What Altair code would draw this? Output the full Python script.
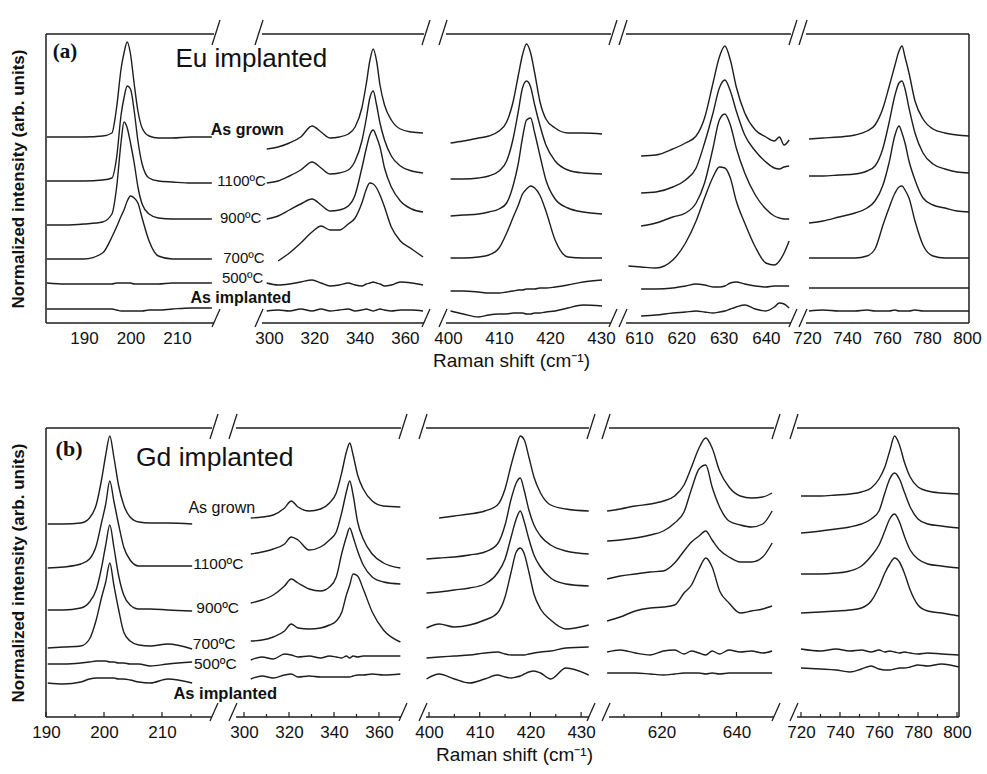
import altair as alt
import pandas as pd

CURVES = ["As grown", "1100ºC", "900ºC", "700ºC", "500ºC", "As implanted"]

# ---------------- Panel (a) : Eu implanted ----------------
A1_X = [182, 186, 190, 194, 196, 197, 198, 198.6, 199.3, 200, 200.8, 201.6, 202.5, 204, 206, 209, 213, 217.5]
A1_GROWN = [186, 186, 186, 187, 190, 215, 255, 270, 281, 269, 239, 212, 195, 187, 185, 185, 186, 186]
A1_1100 = [142, 142, 142, 143, 145, 165, 209, 225, 237, 234, 212, 182, 159, 145, 142, 141, 140, 140]
A1_900 = [98, 98, 99, 101, 109, 135, 182, 201, 195, 180, 160, 136, 119, 109, 105, 104, 104, 104]
A1_700 = [64, 64, 64, 70, 86, 96, 107, 113, 122, 127, 125, 120, 105, 82, 67, 64, 64, 64]
A1_500 = [40, 39, 39, 39, 39, 40, 40, 40, 40, 40, 39, 39, 39, 39, 39, 40, 40, 40]
A1_IMPL = [14, 14, 14, 14, 14, 13, 12, 12, 12, 12, 12, 12, 12, 13, 13, 14, 15, 15]

A2_X = [299, 304, 309, 314, 319, 323, 327, 331, 335, 338, 341, 343, 344.5, 346, 347.5, 349, 351, 354, 358, 363, 368]
A2_GROWN = [174, 176, 180, 186, 197, 191, 185, 186, 189, 196, 215, 240, 262, 274, 262, 238, 218, 203, 194, 191, 190]
A2_1100 = [140, 142, 147, 153, 161, 155, 149, 150, 153, 162, 182, 205, 225, 232, 218, 200, 183, 167, 157, 152, 150]
A2_900 = [104, 107, 113, 119, 124, 118, 112, 113, 117, 128, 155, 175, 188, 193, 186, 176, 155, 136, 122, 114, 111]
A2_700 = [None, 62, 70, 80, 91, 97, 93, 93, 99, 105, 120, 134, 140, 139, 135, 128, 116, 96, 82, 74, 66]
A2_500 = [40, 38, 39, 41, 43, 40, 37, 38, 40, 38, 37, 39, 40, 41, 40, 39, 37, 38, 41, 40, 38]
A2_IMPL = [12, 13, 12, 14, 12, 14, 12, 13, 14, 12, 13, 14, 13, 12, 13, 14, 13, 12, 13, 13, 12]

A3_X = [400.5, 403, 406, 408, 410, 411.5, 412.8, 413.8, 414.6, 415.4, 416.2, 417, 418, 419.2, 421, 423.5, 426.5, 430.2]
A3_GROWN = [180, 182, 185, 187, 192, 201, 222, 248, 268, 279, 270, 250, 222, 204, 195, 190, 190, 189]
A3_1100 = [144, 144, 145, 147, 152, 162, 185, 212, 235, 242, 236, 218, 198, 178, 162, 153, 150, 149]
A3_900 = [107, 108, 109, 111, 114, 120, 138, 160, 185, 203, 205, 190, 168, 143, 124, 115, 111, 109]
A3_700 = [65, 65, 66, 68, 75, 90, 106, 118, 129, 134, 137, 135, 128, 112, 83, 66, 65, 65]
A3_500 = [32, 32, 31, 30, 30, 31, 32, 33, 33, 34, 34, 34, 35, 35, 36, 38, 41, 43]
A3_IMPL = [12, 9, 6, 8, 9, 9, 10, 10, 10, 9, 9, 10, 10, 11, 12, 15, 18, 17]

A4_X = [607.5, 610.5, 614, 618, 621, 623.5, 625.5, 627.5, 629, 630.3, 631.6, 633, 635, 637.5, 640, 642, 643.2, 644.3, 645.5]
A4_GROWN = [None, 167, 168, 174, 180, 187, 205, 240, 266, 277, 263, 236, 210, 193, 186, 182, 186, 178, 183]
A4_1100 = [None, 130, 131, 136, 143, 155, 180, 210, 235, 243, 232, 212, 188, 172, 161, 155, 154, 156, 157]
A4_900 = [None, 97, 100, 106, 110, 120, 140, 175, 203, 209, 198, 175, 150, 128, 114, 107, 105, 104, 104]
A4_700 = [57, 56, 55, 63, 80, 102, 125, 146, 156, 155, 145, 122, 100, 76, 60, 58, 62, 70, 82]
A4_500 = [None, 34, 34, 35, 37, 39, 38, 36, 36, 37, 40, 41, 39, 37, 36, 37, 37, 37, 37]
A4_IMPL = [None, 7, 8, 10, 11, 12, 11, 10, 11, 12, 14, 16, 18, 14, 12, 16, 20, 19, 15]

A5_X = [721, 728, 736, 744, 750, 754, 758, 761, 764, 766, 767.5, 769, 771, 774, 778, 783, 789, 795, 801]
A5_GROWN = [184, 185, 186, 188, 192, 198, 215, 236, 258, 272, 277, 266, 250, 222, 204, 194, 190, 188, 187]
A5_1100 = [147, 147, 148, 149, 152, 157, 175, 200, 228, 240, 242, 234, 215, 190, 170, 159, 154, 151, 150]
A5_900 = [100, 102, 106, 110, 115, 122, 138, 160, 188, 197, 190, 180, 162, 143, 125, 118, 115, 112, 111]
A5_700 = [65, 65, 65, 65, 67, 74, 98, 115, 130, 136, 137, 133, 125, 102, 78, 67, 65, 65, 65]
A5_500 = [35, 35, 35, 35, 35, 35, 35, 35, 35, 35, 35, 35, 35, 35, 35, 35, 35, 35, 35]
A5_IMPL = [12, 13, 12, 12, 13, 12, 12, 12, 13, 12, 12, 12, 12, 13, 12, 12, 12, 12, 12]

# ---------------- Panel (b) : Gd implanted ----------------
B1_X = [190.3, 193, 196, 197.5, 198.7, 199.6, 200.3, 201, 201.7, 202.5, 203.4, 204.5, 206, 208, 211, 215.2]
B1_GROWN = [193, 193, 194, 199, 213, 238, 262, 281, 260, 232, 212, 200, 195, 194, 194, 193]
B1_1100 = [149, 150, 153, 158, 172, 195, 213, 236, 216, 193, 170, 157, 151, 151, 151, 151]
B1_900 = [107, 107, 109, 115, 128, 150, 172, 192, 170, 142, 122, 112, 108, 108, 107, 106]
B1_700 = [69, 70, 71, 78, 98, 120, 135, 154, 132, 108, 85, 76, 72, 71, 73, 68]
B1_500 = [53, 53, 54, 55, 56, 56, 56, 55, 55, 54, 54, 53, 53, 51, 53, 55]
B1_IMPL = [34, 33, 35, 38, 39, 39, 39, 39, 39, 38, 38, 37, 35, 34, 38, 34]

B2_X = [303, 308, 313, 318, 321, 324, 329, 334, 338, 341, 343.5, 345.5, 347, 348.5, 350.5, 353, 357, 362, 369.5]
B2_GROWN = [199, 200, 202, 209, 216, 210, 206, 208, 214, 224, 245, 265, 274, 262, 242, 228, 216, 211, 210]
B2_1100 = [163, 165, 168, 173, 180, 177, 167, 170, 177, 185, 205, 225, 236, 222, 195, 178, 163, 154, 149]
B2_900 = [114, 117, 122, 131, 138, 134, 128, 126, 130, 140, 164, 180, 189, 180, 166, 152, 140, 135, 133]
B2_700 = [76, 77, 80, 86, 93, 89, 88, 89, 92, 96, 105, 122, 132, 143, 141, 128, 105, 87, 75]
B2_500 = [57, 60, 58, 63, 62, 60, 61, 59, 61, 60, 59, 61, 59, 61, 60, 61, 61, 61, 61]
B2_IMPL = [38, 41, 39, 42, 43, 40, 41, 40, 40, 40, 40, 40, 40, 41, 42, 42, 43, 42, 43]

B3_X = [399.5, 402, 405, 408, 411, 413.5, 415, 416.2, 417.2, 418, 418.8, 419.7, 420.7, 422, 424, 427, 431.5]
B3_GROWN = [None, 199, 201, 203, 206, 212, 228, 252, 270, 281, 277, 260, 240, 224, 212, 208, 206]
B3_1100 = [158, 159, 160, 162, 165, 173, 192, 218, 234, 239, 226, 207, 192, 181, 172, 166, 163]
B3_900 = [124, 125, 127, 129, 133, 144, 158, 180, 198, 206, 195, 178, 162, 150, 139, 133, 131]
B3_700 = [89, 93, 90, 92, 97, 104, 120, 145, 165, 169, 163, 145, 123, 108, 97, 88, 92]
B3_500 = [59, 60, 61, 62, 64, 65, 63, 62, 62, 62, 62, 63, 64, 65, 66, 69, 70]
B3_IMPL = [38, 43, 38, 34, 38, 42, 40, 39, 40, 41, 43, 45, 46, 44, 38, 49, 42]

B4_X = [605.5, 609, 613, 617, 620.5, 623.5, 626, 628, 630, 631.8, 633.5, 635.5, 638, 641, 644, 647, 649.5]
B4_GROWN = [206, 208, 211, 213, 216, 221, 232, 250, 269, 279, 269, 246, 230, 221, 219, 220, 224]
B4_1100 = [176, 177, 179, 182, 186, 194, 205, 228, 248, 252, 230, 210, 196, 192, 190, 193, 206]
B4_900 = [138, 141, 143, 145, 146, 154, 166, 175, 181, 186, 177, 167, 160, 155, 155, 160, 174]
B4_700 = [96, 100, 106, 109, 110, 112, 124, 132, 148, 159, 150, 126, 114, 104, 106, 108, 111]
B4_500 = [65, 67, 64, 62, 66, 67, 63, 66, 64, 62, 66, 63, 67, 65, 66, 64, 66]
B4_IMPL = [44, 44, 44, 43, 42, 43, 44, 44, 44, 43, 44, 43, 44, 44, 44, 44, 44]

B5_X = [720, 730, 738, 745, 751, 756, 760, 763, 765.5, 768, 770.5, 773, 776, 780, 785, 792, 801]
B5_GROWN = [221, 221, 222, 223, 225, 229, 238, 250, 266, 281, 272, 255, 240, 230, 226, 224, 223]
B5_1100 = [184, 186, 188, 190, 193, 198, 206, 224, 238, 244, 238, 225, 210, 198, 193, 191, 189]
B5_900 = [143, 143, 144, 146, 151, 161, 172, 186, 198, 203, 195, 181, 167, 158, 153, 151, 149]
B5_700 = [104, 105, 106, 107, 109, 116, 130, 144, 153, 159, 155, 144, 127, 112, 106, 104, 101]
B5_500 = [68, 66, 68, 66, 67, 65, 67, 65, 66, 65, 64, 65, 64, 63, 64, 63, 62]
B5_IMPL = [49, 48, 47, 45, 48, 51, 48, 47, 47, 48, 49, 49, 50, 52, 51, 53, 50]

# tick labels
A_TICKS = [[190, 200, 210], [300, 320, 340, 360], [400, 410, 420, 430], [610, 620, 630, 640], [720, 740, 760, 780, 800]]
B_TICKS = [[190, 200, 210], [300, 320, 340, 360], [400, 410, 420, 430], [620, 640], [720, 740, 760, 780, 800]]
B_MINOR = [[195, 205, 215], [310, 330, 350], [405, 415, 425], [610, 630], [730, 750, 770, 790]]

INK = "#1e1e1e"
FONT = "Liberation Sans"
TOP = 289

# layout of each broken segment: domain, width, axis-line extent, pixels per unit
GEOM_A = [
    dict(dom=[181.83, 223.12], w=192, ax=[181.83, 217.96], ppu=4.65),
    dict(dom=[286.31, 373.29], w=197, ax=[296.91, 368.43], ppu=2.265),
    dict(dom=[397.45, 433.53], w=184, ax=[399.61, 431.96], ppu=5.1),
    dict(dom=[605.27, 647.83], w=180, ax=[606.93, 645.93], ppu=4.23),
    dict(dom=[716.0, 801.0], w=170, ax=[719.5, 801.0], ppu=2.0),
]
GEOM_B = [
    dict(dom=[190.0, 220.69], w=178, ax=[190.0, 218.62], ppu=5.8),
    dict(dom=[291.11, 375.56], w=190, ax=[296.44, 369.78], ppu=2.25),
    dict(dom=[397.04, 433.53], w=185, ax=[399.41, 431.56], ppu=5.07),
    dict(dom=[603.33, 653.2], w=187, ax=[606.0, 650.0], ppu=3.75),
    dict(dom=[712.31, 801.03], w=173, ax=[717.95, 801.03], ppu=1.95),
]


def long_df(xs, series):
    rows = []
    for name, ys in zip(CURVES, series):
        for x, y in zip(xs, ys):
            if y is not None:
                rows.append({"x": x, "h": y, "curve": name})
    return pd.DataFrame(rows)


def seg_chart(i, xs, series, g, labels, minor, xtitle_pos, texts, ticks_in):
    first, last = i == 0, i == 4
    ax_kw = dict(values=labels, domain=False, ticks=False, grid=False,
                 labelFont=FONT, labelFontSize=17, labelPadding=7,
                 labelFlush=False, labelOverlap=False, labelColor="#111")
    if xtitle_pos is not None:
        xaxis = alt.Axis(title="Raman shift (cm⁻¹)", titleFont=FONT, titleFontSize=19,
                         titleFontWeight="normal", titleX=xtitle_pos[0], titleY=xtitle_pos[1],
                         titleAlign="center", titleBaseline="alphabetic", titleColor="#111", **ax_kw)
    else:
        xaxis = alt.Axis(title=None, **ax_kw)
    if first:
        yaxis = alt.Axis(title="Normalized intensity (arb. units)", labels=False, ticks=False,
                         domain=False, grid=False, titleFont=FONT, titleFontSize=17,
                         titleFontWeight="bold", titlePadding=19, titleColor="#111")
    else:
        yaxis = None
    xenc = alt.X("x:Q", scale=alt.Scale(domain=g["dom"], nice=False, zero=False), axis=xaxis)
    yenc = alt.Y("h:Q", scale=alt.Scale(domain=[0, TOP], nice=False, zero=False), axis=yaxis)

    layers = []
    layers.append(alt.Chart(long_df(xs, series)).mark_line(
        color=INK, strokeWidth=1.4, interpolate="monotone").encode(x=xenc, y=yenc, detail="curve:N"))

    lo, hi = g["ax"]
    frame = pd.DataFrame({"x": [lo, lo], "x2": [hi, hi], "h": [0, TOP]})
    layers.append(alt.Chart(frame).mark_rule(color=INK, strokeWidth=1.5).encode(
        x=xenc, x2=alt.X2("x2"), y=yenc))

    vx = []
    if first:
        vx.append(lo)
    if last:
        vx.append(hi)
    if vx:
        vf = pd.DataFrame({"x": vx, "h": [0] * len(vx), "h2": [TOP] * len(vx)})
        layers.append(alt.Chart(vf).mark_rule(color=INK, strokeWidth=1.5).encode(
            x=xenc, y=yenc, y2=alt.Y2("h2")))

    centers = []
    if not first:
        centers.append(lo - 3 / g["ppu"])
    if not last:
        centers.append(hi + 2 / g["ppu"])
    srows = []
    d = 4 / g["ppu"]
    for c in centers:
        srows.append({"x": c - d, "x2": c + d, "h": -4, "h2": 14})
        srows.append({"x": c - d, "x2": c + d, "h": TOP - 11, "h2": TOP + 14})
    if srows:
        layers.append(alt.Chart(pd.DataFrame(srows)).mark_rule(color=INK, strokeWidth=1.3).encode(
            x=xenc, x2=alt.X2("x2"), y=yenc, y2=alt.Y2("h2")))

    if ticks_in:
        tk = pd.DataFrame({"x": labels + minor, "h": [0] * (len(labels) + len(minor)),
                           "h2": [5] * len(labels) + [3] * len(minor)})
        layers.append(alt.Chart(tk).mark_rule(color=INK, strokeWidth=1.2).encode(
            x=xenc, y=yenc, y2=alt.Y2("h2")))

    for t in texts:
        df = pd.DataFrame({"x": [t["x"]], "h": [t["h"]], "label": [t["text"]]})
        layers.append(alt.Chart(df).mark_text(
            font=t.get("font", FONT), fontSize=t["size"], fontWeight=t.get("weight", "normal"),
            baseline=t.get("baseline", "middle"), align="center", color="#111").encode(
            x=xenc, y=yenc, text="label:N"))

    return alt.layer(*layers).properties(width=g["w"], height=TOP)


A_TEXTS = [
    dict(text="(a)", x=185.9, h=265, size=21, weight="bold", font="Liberation Serif", baseline="alphabetic"),
    dict(text="Eu implanted", x=226.0, h=256, size=26, baseline="alphabetic"),
    dict(text="As grown", x=225.1, h=193, size=16, weight="bold"),
    dict(text="1100ºC", x=223.9, h=142, size=15),
    dict(text="900ºC", x=223.7, h=105, size=15),
    dict(text="700ºC", x=224.4, h=65, size=15),
    dict(text="500ºC", x=224.1, h=45, size=15),
    dict(text="As implanted", x=223.7, h=25, size=16, weight="bold"),
]
B_TEXTS = [
    dict(text="(b)", x=193.97, h=261, size=22, weight="bold", font="Liberation Serif", baseline="alphabetic"),
    dict(text="Gd implanted", x=219.1, h=251, size=26.5, baseline="alphabetic"),
    dict(text="As grown", x=220.3, h=209, size=16),
    dict(text="1100ºC", x=219.7, h=153, size=15.5),
    dict(text="900ºC", x=219.6, h=109, size=15.5),
    dict(text="700ºC", x=219.0, h=73, size=15.5),
    dict(text="500ºC", x=219.2, h=53, size=15.5),
    dict(text="As implanted", x=220.9, h=23, size=16.5, weight="bold"),
]

A_DATA = [
    (A1_X, [A1_GROWN, A1_1100, A1_900, A1_700, A1_500, A1_IMPL]),
    (A2_X, [A2_GROWN, A2_1100, A2_900, A2_700, A2_500, A2_IMPL]),
    (A3_X, [A3_GROWN, A3_1100, A3_900, A3_700, A3_500, A3_IMPL]),
    (A4_X, [A4_GROWN, A4_1100, A4_900, A4_700, A4_500, A4_IMPL]),
    (A5_X, [A5_GROWN, A5_1100, A5_900, A5_700, A5_500, A5_IMPL]),
]
B_DATA = [
    (B1_X, [B1_GROWN, B1_1100, B1_900, B1_700, B1_500, B1_IMPL]),
    (B2_X, [B2_GROWN, B2_1100, B2_900, B2_700, B2_500, B2_IMPL]),
    (B3_X, [B3_GROWN, B3_1100, B3_900, B3_700, B3_500, B3_IMPL]),
    (B4_X, [B4_GROWN, B4_1100, B4_900, B4_700, B4_500, B4_IMPL]),
    (B5_X, [B5_GROWN, B5_1100, B5_900, B5_700, B5_500, B5_IMPL]),
]

row_a = []
for i in range(5):
    xs, series = A_DATA[i]
    row_a.append(seg_chart(i, xs, series, GEOM_A[i], A_TICKS[i], [],
                           (76, 43) if i == 2 else None, A_TEXTS if i == 0 else [], False))
row_b = []
for i in range(5):
    xs, series = B_DATA[i]
    row_b.append(seg_chart(i, xs, series, GEOM_B[i], B_TICKS[i], B_MINOR[i],
                           (100, 43) if i == 2 else None, B_TEXTS if i == 0 else [], True))

# nested rows count as zero height in a flush layout, so the gap includes the panel height
chart = alt.vconcat(
    alt.hconcat(*row_a, spacing=0, bounds="flush"),
    alt.hconcat(*row_b, spacing=0, bounds="flush"),
    spacing=TOP + 105, bounds="flush",
).configure_view(stroke=None).properties(
    padding={"left": 8, "top": 19, "right": 5, "bottom": 5}, background="white")

chart.save("out.html", embed_options={"renderer": "svg", "actions": False})
